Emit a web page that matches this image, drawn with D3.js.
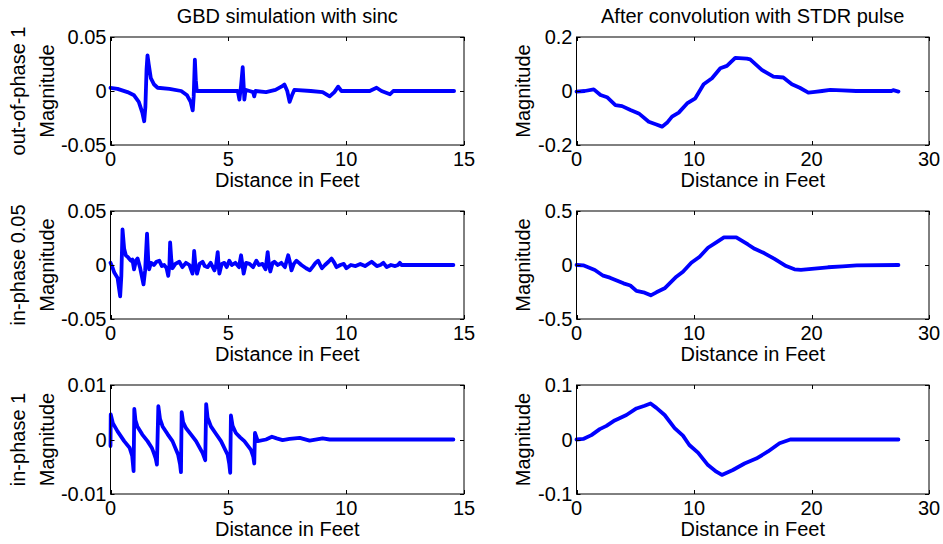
<!DOCTYPE html>
<html>
<head>
<meta charset="utf-8">
<script src="https://cdn.jsdelivr.net/npm/d3@7"></script>
<style>
  html, body { margin: 0; padding: 0; background: #fff; }
  svg { display: block; }
  text { font-family: "Liberation Sans", Arial, sans-serif; font-size: 20px; fill: #000; }
</style>
</head>
<body>
<svg id="chart" width="943" height="544"></svg>
<script>
// ---------------- DATA ----------------
const titles = ["GBD simulation with sinc", "After convolution with STDR pulse"];
const rowLabels = ["out-of-phase 1", "in-phase 0.05", "in-phase 1"];
const yLabel = "Magnitude";
const xLabel = "Distance in Feet";

const leftXTicks = [0, 5, 10, 15];
const rightXTicks = [0, 10, 20, 30];
const leftYTicks = [[-0.05, 0, 0.05], [-0.05, 0, 0.05], [-0.01, 0, 0.01]];
const rightYTicks = [[-0.2, 0, 0.2], [-0.5, 0, 0.5], [-0.1, 0, 0.1]];

// Left column, row 1: out-of-phase 1
const oop1X = [0, 0.3, 0.72, 1.0, 1.2, 1.35, 1.43, 1.48, 1.53, 1.57, 1.62, 1.71, 1.85, 2.0, 2.5, 3.0, 3.25, 3.4, 3.49, 3.53, 3.58, 3.62, 3.66, 4.5, 5.4, 5.47, 5.54, 5.61, 5.65, 5.68, 5.73, 5.9, 6.05, 6.1, 6.15, 6.6, 7.0, 7.25, 7.38, 7.5, 7.6, 7.7, 7.8, 8.5, 9.0, 9.3, 9.5, 9.66, 9.8, 10.5, 11.0, 11.29, 11.5, 11.86, 12.0, 14.58];
const oop1Y = [0.003, 0.002, -0.001, -0.004, -0.01, -0.02, -0.028, -0.015, 0.02, 0.033, 0.025, 0.012, 0.006, 0.003, 0.002, 0.0, -0.004, -0.01, -0.018, -0.005, 0.029, 0.01, 0.0, 0.0, 0.0, -0.008, 0.005, 0.022, 0.005, -0.008, 0.001, 0.0, -0.001, -0.005, 0.0, -0.001, 0.001, 0.004, 0.006, 0.0, -0.01, -0.004, 0.001, 0.0, -0.001, -0.005, -0.001, 0.004, 0.0, 0.0, 0.0, 0.003, 0.0, -0.003, 0.0, 0.0];

// Left column, row 2: in-phase 0.05
const ip005X = [0, 0.08, 0.16, 0.3, 0.41, 0.46, 0.51, 0.58, 0.65, 0.75, 0.86, 0.93, 1.0, 1.08, 1.15, 1.25, 1.4, 1.47, 1.55, 1.6, 1.64, 1.72, 1.84, 1.95, 2.07, 2.18, 2.28, 2.38, 2.45, 2.5, 2.53, 2.58, 2.63, 2.75, 2.92, 3.05, 3.2, 3.35, 3.48, 3.52, 3.55, 3.6, 3.67, 3.78, 3.91, 4.0, 4.12, 4.25, 4.41, 4.48, 4.55, 4.58, 4.62, 4.72, 4.83, 4.93, 5.04, 5.15, 5.3, 5.45, 5.54, 5.6, 5.65, 5.75, 5.9, 6.05, 6.19, 6.3, 6.45, 6.58, 6.67, 6.72, 6.78, 6.88, 6.95, 7.1, 7.25, 7.4, 7.54, 7.6, 7.68, 7.78, 7.89, 8.0, 8.1, 8.3, 8.46, 8.6, 8.7, 8.81, 8.9, 8.97, 9.1, 9.25, 9.38, 9.5, 9.59, 9.75, 9.9, 10.01, 10.2, 10.4, 10.6, 10.8, 11.08, 11.3, 11.45, 11.58, 11.72, 11.9, 12.08, 12.2, 12.28, 12.35, 14.55];
const ip005Y = [0.002, -0.002, -0.007, -0.012, -0.029, -0.01, 0.033, 0.015, 0.009, 0.007, 0.004, 0.005, -0.004, 0.004, 0.006, -0.002, -0.018, -0.005, 0.029, 0.005, -0.004, 0.002, 0.0, 0.003, 0.004, -0.001, 0.0, -0.003, -0.010, 0.0, 0.021, 0.005, -0.003, 0.001, 0.003, -0.002, 0.002, 0.0, -0.008, 0.002, 0.013, 0.001, -0.008, 0.001, 0.003, -0.001, -0.002, 0.002, -0.005, 0.0, 0.012, 0.002, -0.008, 0.001, 0.002, -0.002, 0.004, 0.0, 0.002, -0.002, 0.009, 0.0, -0.008, 0.002, 0.001, -0.002, 0.004, 0.0, 0.001, -0.004, 0.012, 0.001, -0.006, 0.002, 0.003, 0.0, 0.002, -0.002, 0.009, 0.004, -0.005, 0.001, 0.004, 0.002, 0.0, -0.003, -0.005, -0.001, 0.002, 0.004, 0.0, -0.003, 0.0, 0.003, 0.006, 0.002, -0.002, 0.0, 0.001, -0.003, 0.0, -0.001, 0.001, -0.001, 0.003, -0.001, 0.0, 0.002, -0.002, 0.0, -0.001, 0.0, 0.002, 0.0, 0.0];

// Left column, row 3: in-phase 1
const ip1X = [0, 0.01, 0.1, 0.3, 0.58, 0.81, 0.92, 0.98, 1.01, 1.06, 1.14, 1.35, 1.57, 1.75, 1.84, 1.92, 1.97, 2.03, 2.1, 2.21, 2.42, 2.63, 2.87, 2.95, 2.99, 3.02, 3.08, 3.2, 3.42, 3.63, 3.91, 4.02, 4.06, 4.12, 4.26, 4.48, 4.69, 4.97, 5.04, 5.08, 5.11, 5.18, 5.32, 5.5, 5.68, 5.96, 6.06, 6.1, 6.13, 6.25, 6.6, 6.85, 7.05, 7.3, 7.6, 8.03, 8.45, 9.0, 9.3, 14.55];
const ip1Y = [-0.0012, 0.0046, 0.003, 0.0015, -0.0003, -0.0015, -0.003, -0.0058, 0.0056, 0.0035, 0.0024, 0.0009, -0.0003, -0.0015, -0.0025, -0.0035, -0.0046, 0.0061, 0.0038, 0.0024, 0.001, -0.0003, -0.0028, -0.0045, -0.006, 0.005, 0.0032, 0.0021, 0.0009, -0.0003, -0.0025, -0.0038, 0.0065, 0.004, 0.0024, 0.001, -0.0003, -0.0028, -0.0045, -0.0061, 0.0044, 0.0025, 0.0012, 0.0004, -0.0003, -0.0019, -0.0032, -0.0044, 0.0012, -0.0003, 0.0, 0.0005, 0.0002, -0.0001, 0.0001, 0.0003, -0.0002, 0.0002, 0.0, 0.0];

// Right column, row 1: convolved out-of-phase 1
const conv1X = [0, 0.7, 1.47, 2.04, 2.6, 3.31, 3.88, 4.59, 5.3, 6.15, 6.8, 7.28, 7.7, 8.13, 8.7, 9.41, 10.11, 10.82, 11.53, 12.24, 12.8, 13.51, 14.5, 14.78, 15.77, 16.76, 17.6, 18.33, 19.0, 19.73, 20.3, 20.9, 21.6, 22.6, 23.8, 26.8, 26.95, 27.4];
const conv1Y = [-0.002, 0.0, 0.006, -0.015, -0.023, -0.052, -0.056, -0.07, -0.083, -0.114, -0.124, -0.132, -0.118, -0.095, -0.08, -0.046, -0.027, 0.025, 0.047, 0.084, 0.093, 0.123, 0.12, 0.117, 0.078, 0.053, 0.05, 0.025, 0.012, -0.006, -0.003, 0.0, 0.004, 0.002, 0.0, 0.0, 0.003, -0.002];

// Right column, row 2: convolved in-phase 0.05
const conv2X = [0, 0.57, 1.56, 2.27, 2.84, 4.0, 4.58, 5.1, 5.8, 6.32, 6.8, 7.5, 8.5, 9.06, 9.77, 10.48, 11.19, 11.9, 12.55, 13.6, 14.59, 15.16, 16.0, 16.85, 17.84, 18.55, 19.1, 20.25, 21.4, 22.65, 23.85, 27.4];
const conv2Y = [0.0, -0.003, -0.046, -0.099, -0.117, -0.17, -0.19, -0.24, -0.256, -0.281, -0.253, -0.216, -0.108, -0.062, 0.021, 0.077, 0.16, 0.21, 0.256, 0.256, 0.19, 0.15, 0.108, 0.056, -0.01, -0.04, -0.046, -0.034, -0.021, -0.012, -0.003, 0.0];

// Right column, row 3: convolved in-phase 1
const conv3X = [0, 0.57, 1.27, 1.98, 2.55, 3.25, 4.25, 5.1, 5.8, 6.3, 6.8, 7.5, 8.35, 9.06, 9.6, 10.34, 11.19, 11.9, 12.37, 13.31, 14.3, 15.3, 16.3, 17.28, 18.2, 27.4];
const conv3Y = [0.0, 0.001, 0.008, 0.019, 0.025, 0.035, 0.045, 0.057, 0.062, 0.066, 0.058, 0.045, 0.021, 0.007, -0.01, -0.024, -0.047, -0.059, -0.065, -0.056, -0.044, -0.035, -0.022, -0.007, 0.0, 0.0];

// ---------------- LAYOUT ----------------
const svg = d3.select("#chart");
const cols = [{x0: 110.5, x1: 464}, {x0: 576.5, x1: 929}];
const rows = [{y0: 37, y1: 145}, {y0: 211, y1: 319}, {y0: 385, y1: 494}];
const tickLen = 4;

const panels = [
  {c: 0, r: 0, xs: oop1X, ys: oop1Y, xd: [0, 15], yd: [-0.05, 0.05], xt: leftXTicks, yt: leftYTicks[0]},
  {c: 0, r: 1, xs: ip005X, ys: ip005Y, xd: [0, 15], yd: [-0.05, 0.05], xt: leftXTicks, yt: leftYTicks[1]},
  {c: 0, r: 2, xs: ip1X, ys: ip1Y, xd: [0, 15], yd: [-0.01, 0.01], xt: leftXTicks, yt: leftYTicks[2]},
  {c: 1, r: 0, xs: conv1X, ys: conv1Y, xd: [0, 30], yd: [-0.2, 0.2], xt: rightXTicks, yt: rightYTicks[0]},
  {c: 1, r: 1, xs: conv2X, ys: conv2Y, xd: [0, 30], yd: [-0.5, 0.5], xt: rightXTicks, yt: rightYTicks[1]},
  {c: 1, r: 2, xs: conv3X, ys: conv3Y, xd: [0, 30], yd: [-0.1, 0.1], xt: rightXTicks, yt: rightYTicks[2]}
];

const fmt = v => (v === 0 ? "0" : String(v));

panels.forEach(p => {
  const C = cols[p.c], R = rows[p.r];
  const x = d3.scaleLinear().domain(p.xd).range([C.x0, C.x1]);
  const y = d3.scaleLinear().domain(p.yd).range([R.y1, R.y0]);
  const g = svg.append("g");

  // data line
  const pts = p.xs.map((v, i) => [v, p.ys[i]]);
  g.append("path")
    .datum(pts)
    .attr("fill", "none")
    .attr("stroke", "#0000ff")
    .attr("stroke-width", 3.8)
    .attr("stroke-linejoin", "round")
    .attr("stroke-linecap", "round")
    .attr("d", d3.line().x(d => x(d[0])).y(d => y(d[1])));

  // box
  g.append("rect")
    .attr("x", C.x0).attr("y", R.y0)
    .attr("width", C.x1 - C.x0).attr("height", R.y1 - R.y0)
    .attr("fill", "none").attr("stroke", "#000").attr("stroke-width", 1);

  // x ticks (inward, bottom and top)
  p.xt.forEach(t => {
    const xp = Math.round(x(t)) + 0.5;
    g.append("line").attr("x1", xp).attr("x2", xp).attr("y1", R.y1).attr("y2", R.y1 - tickLen).attr("stroke", "#000");
    g.append("line").attr("x1", xp).attr("x2", xp).attr("y1", R.y0).attr("y2", R.y0 + tickLen).attr("stroke", "#000");
    g.append("text").attr("x", x(t)).attr("y", R.y1 + 20.5).attr("text-anchor", "middle").text(fmt(t));
  });
  // y ticks (inward, left and right)
  p.yt.forEach(t => {
    const yp = Math.round(y(t)) + 0.5;
    g.append("line").attr("x1", C.x0).attr("x2", C.x0 + tickLen).attr("y1", yp).attr("y2", yp).attr("stroke", "#000");
    g.append("line").attr("x1", C.x1).attr("x2", C.x1 - tickLen).attr("y1", yp).attr("y2", yp).attr("stroke", "#000");
    g.append("text").attr("x", C.x0 - 4).attr("y", y(t)).attr("dy", "0.36em").attr("text-anchor", "end").text(fmt(t));
  });

  // x label
  g.append("text").attr("x", (C.x0 + C.x1) / 2).attr("y", R.y1 + 42)
    .attr("text-anchor", "middle").text(xLabel);

  // y label
  const yc = (R.y0 + R.y1) / 2;
  if (p.c === 0) {
    g.append("text").attr("transform", `translate(25,${yc}) rotate(-90)`)
      .attr("text-anchor", "middle").text(rowLabels[p.r]);
    g.append("text").attr("transform", `translate(54,${yc}) rotate(-90)`)
      .attr("text-anchor", "middle").text(yLabel);
  } else {
    g.append("text").attr("transform", `translate(530,${yc}) rotate(-90)`)
      .attr("text-anchor", "middle").text(yLabel);
  }

  // title
  if (p.r === 0) {
    g.append("text").attr("x", (C.x0 + C.x1) / 2).attr("y", 23)
      .attr("text-anchor", "middle").text(titles[p.c]);
  }
});
</script>
</body>
</html>
